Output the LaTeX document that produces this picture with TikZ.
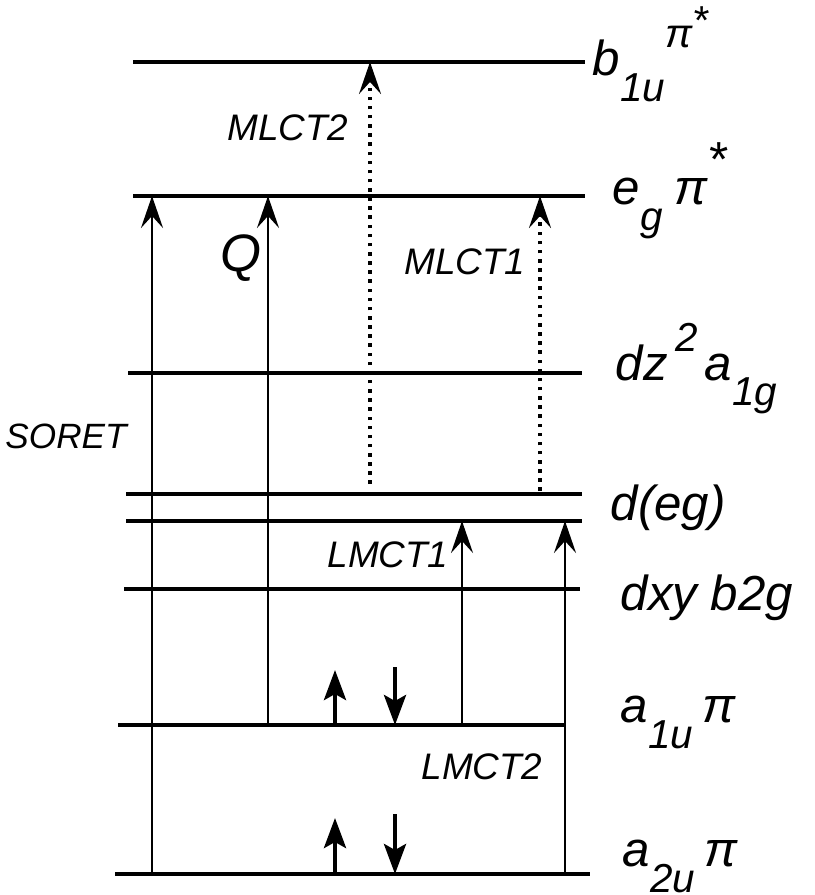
\documentclass[tikz,border=0pt]{standalone}
\usepackage{fontspec}
\setmainfont{Liberation Sans}
\usetikzlibrary{arrows.meta, calc}

\newcommand\lowsub[1]{\raisebox{-1.0ex}{\fontsize{11.5}{13}\selectfont #1}}
\newcommand\highsup[1]{\raisebox{1.1ex}{\fontsize{11.5}{13}\selectfont #1}}

\begin{document}
\begin{tikzpicture}[
    level/.style={line width=1.1pt},
    trans/.style={-{Stealth[length=3.2mm,width=2.2mm,inset=1.2mm]}, line width=0.6pt},
    mlct/.style={trans, line width=0.9pt, dash pattern=on 1pt off 1.6pt},
    spin/.style={-{Stealth[length=3mm,width=2.2mm,inset=0.6mm]}, line width=1.2pt},
    lab/.style={font=\itshape\fontsize{10.5}{12}\selectfont, inner sep=1pt},
    orb/.style={font=\itshape\fontsize{14}{16}\selectfont, anchor=base west, inner sep=0pt}
]
    \useasboundingbox (0,0) rectangle (8.15,-8.95);

    % energy levels
    \coordinate (b1uL) at (1.33,-0.62); \coordinate (b1uR) at (5.85,-0.62);
    \coordinate (egL)  at (1.33,-1.96); \coordinate (egR)  at (5.85,-1.96);
    \coordinate (a1gL) at (1.28,-3.73); \coordinate (a1gR) at (5.82,-3.73);
    \coordinate (deaL) at (1.26,-4.94); \coordinate (deaR) at (5.82,-4.94);
    \coordinate (debL) at (1.26,-5.21); \coordinate (debR) at (5.82,-5.21);
    \coordinate (b2gL) at (1.24,-5.89); \coordinate (b2gR) at (5.80,-5.89);
    \coordinate (a1uL) at (1.18,-7.25); \coordinate (a1uR) at (5.65,-7.25);
    \coordinate (a2uL) at (1.15,-8.74); \coordinate (a2uR) at (5.90,-8.74);

    \draw[level] (b1uL) -- (b1uR);
    \draw[level] (egL) -- (egR);
    \draw[level] (a1gL) -- (a1gR);
    \draw[level] (deaL) -- (deaR);
    \draw[level] (debL) -- (debR);
    \draw[level] (b2gL) -- (b2gR);
    \draw[level] (a1uL) -- (a1uR);
    \draw[level] (a2uL) -- (a2uR);

    % orbital labels
    \node[orb] (b1ulab) at (5.92,-0.76) {b\lowsub{1u}\highsup{π\raisebox{0.6ex}{*}}};
    \node[orb] (eglab)  at (6.12,-2.05) {e\lowsub{g}\hspace{0.25em}π\raisebox{1.1ex}{*}};
    \node[orb] (a1glab) at (6.15,-3.80) {dz\hspace{0.15em}\highsup{2}\hspace{0.15em}a\lowsub{1g}};
    \node[orb] (deglab) at (6.10,-5.20) {d(eg)};
    \node[orb] (b2glab) at (6.20,-6.10) {dxy b2g};
    \node[orb] (a1ulab) at (6.20,-7.22) {a\lowsub{1u}\hspace{0.2em}π};
    \node[orb] (a2ulab) at (6.22,-8.66) {a\lowsub{2u}\hspace{0.2em}π};

    % transition columns
    \coordinate (sor) at (1.52,0);
    \coordinate (qq)  at (2.68,0);
    \coordinate (ml2) at (3.70,0);
    \coordinate (ml1) at (5.40,0);
    \coordinate (lm1) at (4.62,0);
    \coordinate (lm2) at (5.65,0);

    \draw[trans] (sor |- a2uL) -- (sor |- egL);
    \draw[trans] (qq |- a1uL) -- (qq |- egL);
    \draw[mlct] ($(ml2 |- deaL)+(0,0.10)$) -- (ml2 |- b1uL);
    \draw[mlct] ($(ml1 |- deaL)+(0,0.03)$) -- (ml1 |- egL);
    \draw[trans] (lm1 |- a1uL) -- (lm1 |- debL);
    \draw[trans] (lm2 |- a2uL) -- (lm2 |- debL);

    % transition labels
    \node[lab, font=\itshape\fontsize{10}{12}\selectfont] (soret) at (0.66,-4.36) {SORET};
    \node[orb, font=\itshape\fontsize{15}{17}\selectfont] (qlab) at (2.20,-2.72) {Q};
    \node[lab] (mlct2) at (2.88,-1.28) {MLCT2};
    \node[lab] (mlct1) at (4.65,-2.62) {MLCT1};
    \node[lab] (lmct1) at (3.88,-5.55) {LMCT1};
    \node[lab] (lmct2) at (4.82,-7.67) {LMCT2};

    % electron pairs
    \coordinate (up) at (3.35,0);
    \coordinate (dn) at (3.95,0);
    \draw[spin] (up |- a1uL) -- ++(0,0.55);
    \draw[spin] ($(dn |- a1uL)+(0,0.58)$) -- (dn |- a1uL);
    \draw[spin] (up |- a2uL) -- ++(0,0.56);
    \draw[spin] ($(dn |- a2uL)+(0,0.60)$) -- (dn |- a2uL);
\end{tikzpicture}
\end{document}
